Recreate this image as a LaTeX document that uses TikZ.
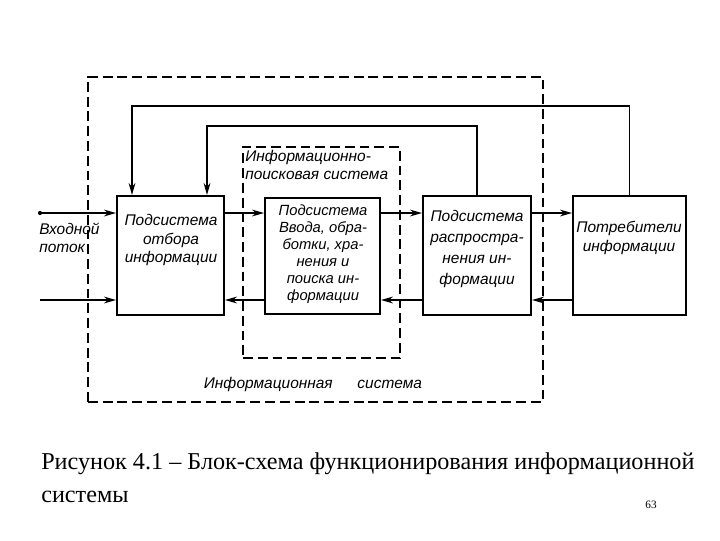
\documentclass[tikz,border=0pt]{standalone}
\usepackage{fontspec}
\setmainfont{Liberation Serif}
\newfontfamily\schemefont{Liberation Sans}
\usetikzlibrary{arrows.meta,positioning,calc}
\tikzset{
  isblock/.style   = {rectangle, draw=black, line width=1.4pt, inner sep=0pt},
  istext/.style    = {font=\schemefont\itshape\fontsize{11}{13}\selectfont,
                      align=center, inner sep=0pt},
  isframe/.style   = {rectangle, draw=black, line width=0.9pt,
                      dash pattern=on 7pt off 3.5pt, inner sep=0pt},
  isflow/.style    = {-{Stealth[length=3mm,width=1.7mm]}, draw=black, line width=1.1pt},
  iscaption/.style = {font=\fontsize{17.2}{24}\selectfont, align=left, inner sep=0pt},
}

\begin{document}
\begin{tikzpicture}[x=0.025cm, y=-0.025cm]
  \useasboundingbox (0,0) rectangle (720,540);

  \node[isframe, minimum width=11.375cm, minimum height=8.125cm] (is)  at (315.5,239.5) {};
  \node[isframe, minimum width=3.925cm,  minimum height=5.275cm] (ips) at (321.5,252.5) {};

  \node[isblock, minimum width=2.675cm, minimum height=2.975cm] (b1) at (170.5,255.5) {};
  \node[isblock, minimum width=2.875cm, minimum height=2.9cm]   (b2) at (322.5,256)   {};
  \node[isblock, minimum width=2.7cm,   minimum height=2.975cm] (b3) at (477,255.5)   {};
  \node[isblock, minimum width=2.825cm, minimum height=2.975cm] (b4) at (629.5,255.5) {};

  \node[istext] (t1) at (171,240) {Подсистема\\отбора\\информации};
  \node[istext, font=\schemefont\itshape\fontsize{10.5}{12}\selectfont] (t2) at (323,254)
        {Подсистема\\Ввода, обра-\\ботки, хра-\\нения и\\поиска ин-\\формации};
  \node[istext] (t3) at (477,249) {Подсистема\\[2pt]распростра-\\[2pt]нения ин-\\[2pt]формации};
  \node[istext] (t4) at (629,238) {Потребители\\[1pt]информации};

  \node[istext, align=left, anchor=west] (inp) at (39,238) {Входной\\поток};
  \node[istext, align=left, anchor=north west] (ipsl) at (245,150) {Информационно-\\поисковая система};
  \node[istext] (isl) at (313,384) {Информационная\hspace{1.6em}система};

  \coordinate (in1) at (40,213);
  \coordinate (in2) at (40,300);
  \coordinate (fb1) at (132,106);
  \coordinate (fb2) at (207,126);

  \fill (in1) circle (1.5pt);
  \draw[isflow] (in1) -- (in1 -| b1.west);
  \draw[isflow] (in2) -- (in2 -| b1.west);

  \draw[isflow] (in1 -| b1.east) -- (in1 -| b2.west);
  \draw[isflow] (in1 -| b2.east) -- (in1 -| b3.west);
  \draw[isflow] (in1 -| b3.east) -- (in1 -| b4.west);

  \draw[isflow] (in2 -| b2.west) -- (in2 -| b1.east);
  \draw[isflow] (in2 -| b3.west) -- (in2 -| b2.east);
  \draw[isflow] (in2 -| b4.west) -- (in2 -| b3.east);

  \draw[isflow] (b4.north) |- (fb1) -- (fb1 |- b1.north);
  \draw[isflow] (b3.north) |- (fb2) -- (fb2 |- b1.north);

  \node[iscaption, anchor=north west] (cap) at (41,452)
        {Рисунок 4.1 – Блок-схема функционирования информационной\\системы};
  \node[font=\fontsize{8}{9}\selectfont, inner sep=0pt] (page) at (651,505) {63};
\end{tikzpicture}
\end{document}
